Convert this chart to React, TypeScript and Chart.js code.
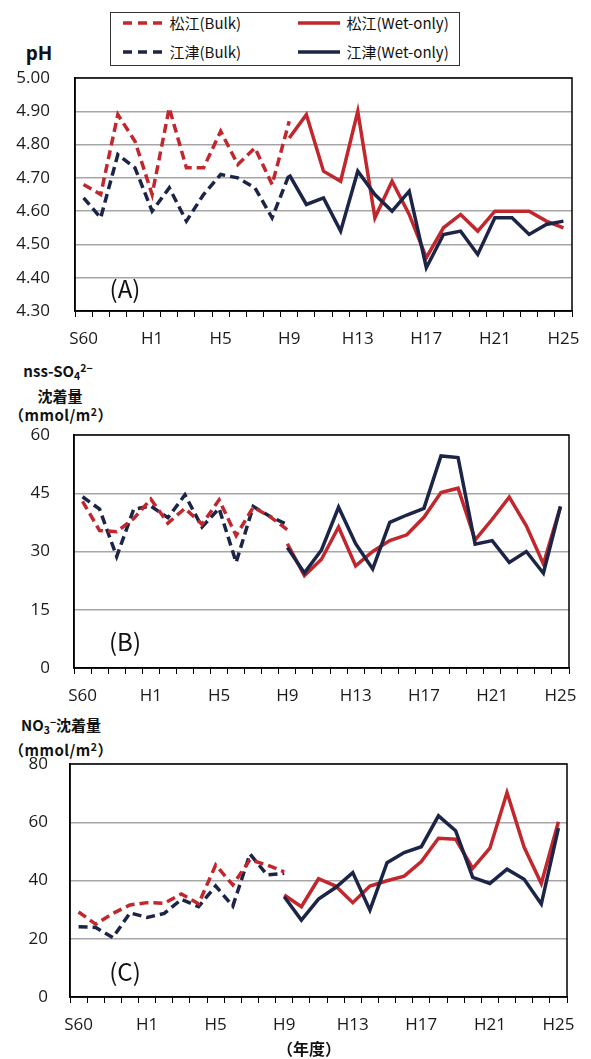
import React, { useEffect, useRef } from 'react';
import { Chart, registerables } from 'chart.js';

Chart.register(...registerables);

// ---------- categories / tick labels ----------
const years = [
  'S60', 'S61', 'S62', 'S63', 'H1', 'H2', 'H3', 'H4', 'H5', 'H6', 'H7', 'H8', 'H9', 'H10',
  'H11', 'H12', 'H13', 'H14', 'H15', 'H16', 'H17', 'H18', 'H19', 'H20', 'H21', 'H22', 'H23', 'H24', 'H25',
];
const shownTicks = ['S60', 'H1', 'H5', 'H9', 'H13', 'H17', 'H21', 'H25'];

// Bulk: S60..H9 ; Wet-only: H9..H25
// ---------- (A) pH ----------
const matsueBulkPH = [4.68, 4.65, 4.89, 4.81, 4.65, 4.91, 4.73, 4.73, 4.84, 4.74, 4.79, 4.68, 4.87];
const gotsuBulkPH = [4.64, 4.58, 4.77, 4.73, 4.60, 4.67, 4.57, 4.65, 4.71, 4.70, 4.67, 4.58, 4.71];
const matsueWetPH = [4.82, 4.89, 4.72, 4.69, 4.90, 4.58, 4.69, 4.59, 4.46, 4.55, 4.59, 4.54, 4.60, 4.60, 4.60, 4.57, 4.55];
const gotsuWetPH = [4.71, 4.62, 4.64, 4.54, 4.72, 4.65, 4.60, 4.66, 4.43, 4.53, 4.54, 4.47, 4.58, 4.58, 4.53, 4.56, 4.57];

// ---------- (B) nss-SO4 ----------
const matsueBulkSO4 = [42.9, 35.4, 35.1, 38.5, 43.5, 37.3, 41.1, 37.0, 43.3, 34.1, 41.4, 38.9, 35.6];
const gotsuBulkSO4 = [44.1, 40.9, 28.7, 40.9, 41.7, 38.7, 44.6, 36.3, 41.1, 27.2, 41.6, 39.0, 36.9];
const matsueWetSO4 = [32.0, 23.8, 28.0, 36.3, 26.3, 30.0, 32.8, 34.3, 38.8, 45.2, 46.3, 33.0, 38.3, 44.0, 36.6, 26.8, 41.6];
const gotsuWetSO4 = [31.0, 24.5, 30.4, 41.4, 32.0, 25.5, 37.5, 39.4, 41.1, 54.6, 54.2, 31.9, 32.8, 27.2, 30.0, 24.4, 41.6];

// ---------- (C) NO3 ----------
const matsueBulkNO3 = [29.2, 25.0, 28.7, 31.6, 32.4, 32.2, 35.4, 32.0, 45.3, 38.5, 47.1, 45.3, 43.0];
const gotsuBulkNO3 = [24.1, 23.9, 20.4, 28.9, 27.3, 28.7, 33.5, 31.0, 38.1, 31.2, 49.1, 41.9, 42.5];
const matsueWetNO3 = [35.0, 31.0, 40.6, 38.1, 32.4, 38.1, 39.9, 41.5, 46.5, 54.5, 54.2, 44.2, 51.1, 70.2, 51.4, 39.0, 60.2];
const gotsuWetNO3 = [34.4, 26.4, 33.6, 37.6, 42.7, 29.8, 46.1, 49.6, 51.6, 62.2, 57.1, 41.1, 39.0, 43.9, 40.4, 31.9, 58.0];

const RED = '#C1272D';
const NAVY = '#1C2447';
const TICK_FONT = "'Open Sans', 'Noto Sans', sans-serif";
const JP_FONT = "'Noto Sans CJK JP', 'Open Sans', sans-serif";

const bulkFull = (v: number[]) => [...v, ...Array(years.length - v.length).fill(null)];
const wetFull = (v: number[]) => [...Array(years.length - v.length).fill(null), ...v];

const mk = (label: string, data: (number | null)[], color: string, dashed: boolean, order: number) => ({
  label,
  data,
  borderColor: color,
  backgroundColor: color,
  borderWidth: 3.5,
  borderDash: dashed ? [9, 5] : [],
  borderJoinStyle: 'miter' as const,
  borderCapStyle: 'butt' as const,
  pointRadius: 0,
  pointHoverRadius: 0,
  tension: 0,
  spanGaps: false,
  fill: false,
  order,
});

const makeSets = (mb: number[], mw: number[], gb: number[], gw: number[]) => [
  mk('松江(Bulk)', bulkFull(mb), RED, true, 2),
  mk('松江(Wet-only)', wetFull(mw), RED, false, 1),
  mk('江津(Bulk)', bulkFull(gb), NAVY, true, 2),
  mk('江津(Wet-only)', wetFull(gw), NAVY, false, 0),
];

const framePlugin = {
  id: 'frame',
  afterDatasetsDraw(chart: any) {
    const { ctx, chartArea } = chart;
    const { left, top, right, bottom } = chartArea;
    ctx.save();
    ctx.strokeStyle = '#000';
    ctx.lineWidth = 1.5;
    ctx.strokeRect(left, top, right - left, bottom - top);
    ctx.restore();
  },
};

type PanelProps = {
  top: number;
  padTop: number;
  yWidth: number;
  padRight: number;
  min: number;
  max: number;
  step: number;
  decimals: number;
  yPad: number;
  datasets: any[];
};

const PLOT_H = 233;
const XAXIS_H = 49;

function Panel(p: PanelProps) {
  const ref = useRef<HTMLCanvasElement>(null);
  const height = p.padTop + PLOT_H + XAXIS_H;
  useEffect(() => {
    const chart = new Chart(ref.current as HTMLCanvasElement, {
      type: 'line',
      data: { labels: years, datasets: p.datasets },
      options: {
        responsive: false,
        animation: false,
        devicePixelRatio: 1,
        layout: { padding: { top: p.padTop, right: p.padRight, left: 0, bottom: 0 } },
        plugins: { legend: { display: false }, tooltip: { enabled: false } },
        scales: {
          x: {
            offset: true,
            grid: {
              display: true,
              drawOnChartArea: false,
              drawTicks: true,
              tickLength: 6,
              offset: true,
              color: '#000',
              lineWidth: 1,
            },
            border: { display: true, color: '#000', width: 1.5 },
            ticks: {
              autoSkip: false,
              maxRotation: 0,
              minRotation: 0,
              padding: 12,
              color: '#1a1a1a',
              font: { family: TICK_FONT, size: 17 },
              callback: (_v: any, i: number) => (shownTicks.includes(years[i]) ? years[i] : ''),
            },
            afterFit: (s: any) => {
              s.height = XAXIS_H;
              s.paddingLeft = 0;
              s.paddingRight = 0;
            },
          },
          y: {
            min: p.min,
            max: p.max,
            grid: { color: '#a6a6a6', lineWidth: 1.5, drawTicks: false },
            border: { display: true, color: '#000', width: 1.5 },
            ticks: {
              stepSize: p.step,
              padding: p.yPad,
              color: '#1a1a1a',
              font: { family: TICK_FONT, size: 17 },
              callback: (v: any) => Number(v).toFixed(p.decimals),
            },
            afterFit: (s: any) => {
              s.width = p.yWidth;
              s.paddingTop = 0;
              s.paddingBottom = 0;
            },
          },
        },
      },
      plugins: [framePlugin],
    } as any);
    return () => chart.destroy();
  }, []);
  return (
    <canvas
      ref={ref}
      width={591}
      height={height}
      style={{ position: 'absolute', left: 0, top: p.top, width: 591, height }}
    />
  );
}

const Txt = ({ cx, cy, children, style }: any) => (
  <div
    style={{
      position: 'absolute',
      left: cx,
      top: cy,
      transform: 'translate(-50%, -50%)',
      whiteSpace: 'nowrap',
      lineHeight: 1,
      ...style,
    }}
  >
    {children}
  </div>
);

const LegendItem = ({ x, y, color, dashed, text, w }: any) => (
  <div style={{ position: 'absolute', left: x, top: y - 10, height: 20, display: 'flex', alignItems: 'center' }}>
    <svg width={w} height={6} style={{ display: 'block' }}>
      <line
        x1={0}
        y1={3}
        x2={w}
        y2={3}
        stroke={color}
        strokeWidth={3.5}
        strokeDasharray={dashed ? '9 6' : undefined}
      />
    </svg>
    <span style={{ marginLeft: 7, fontSize: 15, fontFamily: JP_FONT, color: '#111' }}>{text}</span>
  </div>
);

const titleStyle = { fontFamily: JP_FONT, fontWeight: 'bold', fontSize: 15, color: '#111' };
const sub = { fontSize: '0.7em', position: 'relative', top: '0.3em' } as any;
const sup = { fontSize: '0.7em', position: 'relative', top: '-0.45em' } as any;

export default function App() {
  return (
    <div style={{ position: 'absolute', left: 0, top: 0, width: 591, height: 1059, background: '#fff', overflow: 'hidden' }}>
      {/* Legend */}
      <div
        style={{
          position: 'absolute',
          left: 110,
          top: 12,
          width: 350,
          height: 54,
          border: '1.5px solid #333',
          boxSizing: 'border-box',
        }}
      >
        <LegendItem x={11.5} y={9.5} color={RED} dashed text="松江(Bulk)" w={40} />
        <LegendItem x={186.5} y={9.5} color={RED} dashed={false} text="松江(Wet-only)" w={42} />
        <LegendItem x={11.5} y={38.5} color={NAVY} dashed text="江津(Bulk)" w={40} />
        <LegendItem x={186.5} y={38.5} color={NAVY} dashed={false} text="江津(Wet-only)" w={42} />
      </div>

      {/* Axis titles */}
      <Txt cx={39} cy={53} style={{ fontFamily: "'Open Sans', sans-serif", fontWeight: 'bold', fontSize: 19, color: '#111' }}>
        pH
      </Txt>

      <Txt cx={58} cy={371} style={titleStyle}>
        nss-SO<span style={sub}>4</span>
        <span style={sup}>2−</span>
      </Txt>
      <Txt cx={60} cy={395} style={titleStyle}>
        沈着量
      </Txt>
      <Txt cx={61} cy={415} style={{ ...titleStyle, letterSpacing: 0.5 }}>
        （mmol/m<span style={sup}>2</span>）
      </Txt>

      <Txt cx={61} cy={725} style={titleStyle}>
        NO<span style={sub}>3</span>
        <span style={sup}>−</span>沈着量
      </Txt>
      <Txt cx={61} cy={750} style={{ ...titleStyle, letterSpacing: 0.5 }}>
        （mmol/m<span style={sup}>2</span>）
      </Txt>

      <Panel
        top={60}
        padTop={18}
        yWidth={75}
        padRight={19}
        min={4.3}
        max={5.0}
        step={0.1}
        decimals={2}
        yPad={25}
        datasets={makeSets(matsueBulkPH, matsueWetPH, gotsuBulkPH, gotsuWetPH)}
      />
      <Panel
        top={415}
        padTop={20}
        yWidth={74}
        padRight={22}
        min={0}
        max={60}
        step={15}
        decimals={0}
        yPad={24}
        datasets={makeSets(matsueBulkSO4, matsueWetSO4, gotsuBulkSO4, gotsuWetSO4)}
      />
      <Panel
        top={744}
        padTop={20}
        yWidth={70}
        padRight={24}
        min={0}
        max={80}
        step={20}
        decimals={0}
        yPad={22}
        datasets={makeSets(matsueBulkNO3, matsueWetNO3, gotsuBulkNO3, gotsuWetNO3)}
      />

      {/* Panel labels */}
      <Txt cx={125} cy={288} style={{ fontFamily: JP_FONT, fontSize: 24, color: '#111' }}>(A)</Txt>
      <Txt cx={125} cy={641} style={{ fontFamily: JP_FONT, fontSize: 24, color: '#111' }}>(B)</Txt>
      <Txt cx={125} cy={971} style={{ fontFamily: JP_FONT, fontSize: 24, color: '#111' }}>(C)</Txt>

      <Txt cx={309} cy={1048} style={{ fontFamily: JP_FONT, fontWeight: 'bold', fontSize: 16, color: '#111' }}>
        （年度）
      </Txt>
    </div>
  );
}
